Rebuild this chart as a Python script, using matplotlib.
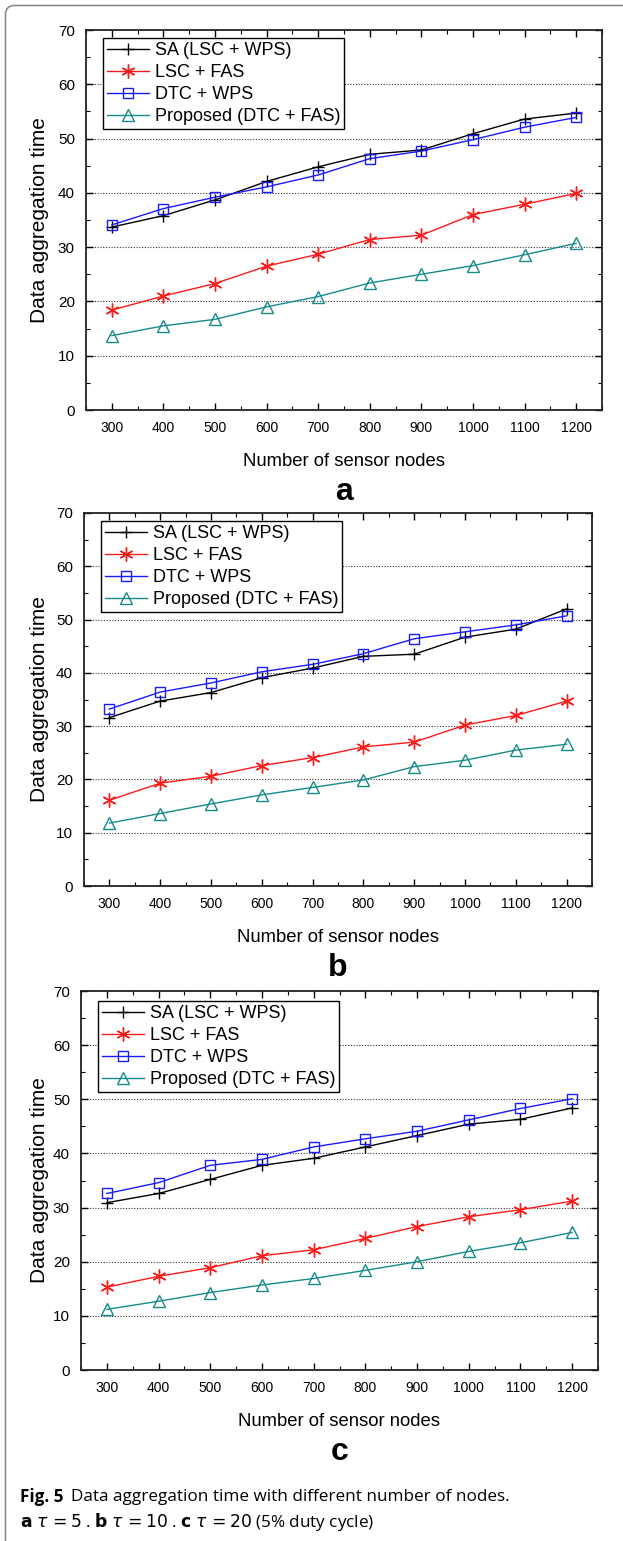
import matplotlib
matplotlib.use("Agg")
import matplotlib.pyplot as plt
from matplotlib.patches import PathPatch
from matplotlib.path import Path
from matplotlib.ticker import MultipleLocator

nodes = [300, 400, 500, 600, 700, 800, 900, 1000, 1100, 1200]
labels = ["SA (LSC + WPS)", "LSC + FAS", "DTC + WPS", "Proposed (DTC + FAS)"]

# panel a (tau = 5)
a_sa = [33.7, 35.8, 38.7, 42.1, 44.8, 47.1, 47.9, 50.9, 53.6, 54.7]
a_lsc = [18.4, 21.0, 23.3, 26.5, 28.7, 31.4, 32.2, 36.0, 37.9, 39.9]
a_dtc = [34.1, 37.1, 39.2, 41.1, 43.3, 46.3, 47.7, 49.8, 52.1, 53.9]
a_prop = [13.7, 15.5, 16.7, 19.0, 20.9, 23.4, 25.0, 26.6, 28.6, 30.7]

# panel b (tau = 10)
b_sa = [31.6, 34.7, 36.3, 39.1, 40.9, 43.1, 43.5, 46.7, 48.2, 52.0]
b_lsc = [16.1, 19.3, 20.6, 22.6, 24.1, 26.1, 27.0, 30.2, 32.0, 34.7]
b_dtc = [33.2, 36.4, 38.1, 40.2, 41.6, 43.6, 46.4, 47.7, 49.0, 50.7]
b_prop = [11.8, 13.6, 15.4, 17.1, 18.5, 19.9, 22.4, 23.6, 25.5, 26.6]

# panel c (tau = 20)
c_sa = [30.9, 32.6, 35.2, 37.8, 39.1, 41.2, 43.3, 45.4, 46.3, 48.4]
c_lsc = [15.3, 17.3, 18.9, 21.1, 22.2, 24.3, 26.5, 28.3, 29.6, 31.2]
c_dtc = [32.6, 34.6, 37.8, 38.9, 41.2, 42.7, 44.1, 46.2, 48.3, 50.1]
c_prop = [11.2, 12.7, 14.3, 15.7, 16.9, 18.4, 20.0, 21.9, 23.5, 25.4]

panels = [("a", [a_sa, a_lsc, a_dtc, a_prop]),
          ("b", [b_sa, b_lsc, b_dtc, b_prop]),
          ("c", [c_sa, c_lsc, c_dtc, c_prop])]

W, H = 623, 1541
# axes boxes in pixels: left, right, top, bottom
boxes = [(86, 602, 30, 410), (84, 592, 513, 886), (81, 598, 991, 1370)]
# legend top-left corners in pixels
leg_pos = [(103, 38), (101, 521), (98, 1001)]

plt.rcParams['font.family'] = ['Liberation Sans', 'DejaVu Sans']

fig = plt.figure(figsize=(W / 100, H / 100), dpi=100)

# rounded frame (open on right / bottom), drawn in pixel coordinates
x0, ytop, r = 5.5, H - 5.5, 9
verts = [(x0, -20), (x0, ytop - r), (x0, ytop), (x0 + r, ytop), (W + 20, ytop)]
codes = [Path.MOVETO, Path.LINETO, Path.CURVE3, Path.CURVE3, Path.LINETO]
frame = PathPatch(Path(verts, codes), transform=None, fill=False,
                  edgecolor="#8a8a8a", linewidth=1.2)
fig.add_artist(frame)

asterisk = (6, 2, 0)
styles = [dict(color="black", marker="+", markersize=9, markeredgewidth=1.0),
          dict(color="#ff1a1a", marker=asterisk, markersize=10, markeredgewidth=1.0),
          dict(color="#1a1aff", marker="s", markersize=6.5, markerfacecolor="none", markeredgewidth=1.0),
          dict(color="#178a8a", marker="^", markersize=8.5, markerfacecolor="none", markeredgewidth=1.0)]

for (letter, series), (l, r_, t, b), (lx, ly) in zip(panels, boxes, leg_pos):
    aw, ah = r_ - l, b - t
    ax = fig.add_axes([l / W, 1 - b / H, aw / W, ah / H])
    for vals, lab, st in zip(series, labels, styles):
        ax.plot(nodes, vals, label=lab, linewidth=1.0, **st)
    ax.set_xlim(250, 1250)
    ax.set_ylim(0, 70)
    ax.set_xticks(nodes)
    ax.set_yticks(range(0, 71, 10))
    ax.xaxis.set_minor_locator(MultipleLocator(50))
    ax.yaxis.set_minor_locator(MultipleLocator(5))
    ax.tick_params(which="both", direction="in", top=True, right=True)
    ax.tick_params(which="major", length=5, width=1.0)
    ax.tick_params(which="minor", length=3, width=0.8)
    ax.tick_params(axis="x", labelsize=10, pad=8)
    ax.tick_params(axis="y", labelsize=11, pad=8)
    for s in ax.spines.values():
        s.set_linewidth(1.3)
        s.set_color("#222222")
    for yv in range(10, 70, 10):
        ax.axhline(yv, color="#333333", linestyle=(0, (1, 1.5)), linewidth=0.8, zorder=0)
    ax.set_ylabel("Data aggregation time", fontsize=15, va="center")
    ax.yaxis.set_label_coords(-(l - 40) / aw, 0.5)
    ax.set_xlabel("Number of sensor nodes", fontsize=13.3, va="center")
    ax.xaxis.set_label_coords(0.5, -(461 - 410) / ah)
    leg = ax.legend(loc="upper left", bbox_to_anchor=((lx - l) / aw, 1 - (ly - t) / ah),
                    borderaxespad=0, fontsize=13, frameon=True, fancybox=False,
                    edgecolor="black", framealpha=1,
                    handlelength=2.3, handletextpad=0.35, labelspacing=0.28,
                    borderpad=0.22)
    leg.get_frame().set_linewidth(1.0)
    fig.text((l + r_) / 2 / W, 1 - (b + 82) / H, letter, fontsize=23, fontweight="bold",
             ha="center", va="center")

cap_font = ['Open Sans', 'DejaVu Sans']
fig.text(20 / W, 1 - 1497 / H, "Fig. 5", fontsize=12.3, va="center", ha="left",
         family=cap_font, fontweight="bold")
fig.text(71 / W, 1 - 1497 / H, "Data aggregation time with different number of nodes.",
         fontsize=12.3, va="center", ha="left", family=cap_font)
fig.text(20 / W, 1 - 1522 / H,
         r"$\bf{a}$ $\tau\,=5$ . $\bf{b}$ $\tau\,=10$ . $\bf{c}$ $\tau\,=20$ (5% duty cycle)",
         fontsize=12.3, va="center", ha="left", family=cap_font)

fig.savefig("out.png", dpi=100)
